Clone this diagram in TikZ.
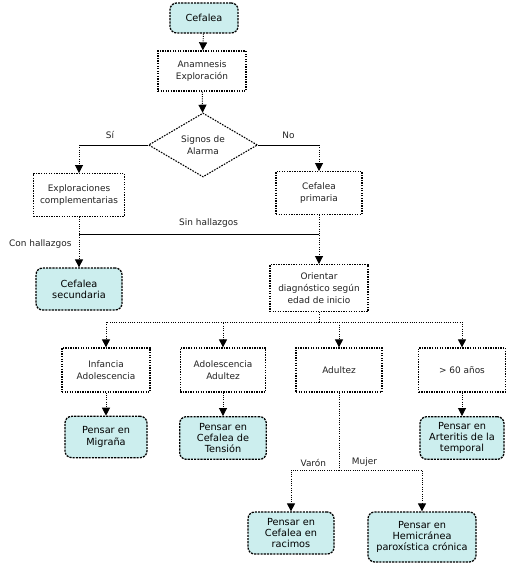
\documentclass[tikz,border=0pt]{standalone}
\usepackage{fontspec}
\setmainfont{DejaVu Sans}
\usetikzlibrary{arrows.meta, positioning, calc, shapes.geometric}
\definecolor{paleaqua}{HTML}{CCEEEE}
\definecolor{inkgray}{HTML}{222222}
\tikzset{
  endbox/.style={rectangle, rounded corners=5pt, draw, fill=paleaqua, line width=0.95pt,
                 dash pattern=on 1.6pt off 0.8pt, align=center, inner sep=1pt,
                 font=\fontsize{7.3}{8.4}\selectfont},
  procbox/.style={rectangle, draw, fill=white, line width=0.95pt,
                  dash pattern=on 1pt off 0.9pt, align=center, inner sep=1pt,
                  text=inkgray, font=\fontsize{6.7}{9}\selectfont},
  decbox/.style={diamond, draw, fill=white, line width=0.8pt,
                 dash pattern=on 1.2pt off 0.9pt, align=center, inner sep=0pt,
                 text=inkgray, font=\fontsize{6.7}{9}\selectfont},
  link/.style={-{Triangle[length=6pt, width=6pt]}, line width=0.7pt, densely dotted},
  plain/.style={line width=0.7pt},
  lbl/.style={font=\fontsize{6.7}{8}\selectfont, text=inkgray},
}
\begin{document}
\begin{tikzpicture}[x=0.75pt, y=-0.75pt]
  \useasboundingbox (0,0) rectangle (507,566);

  % main column
  \node[endbox, minimum width=51pt, minimum height=22.5pt] (cefalea) at (204,18) {Cefalea};
  \node[procbox, minimum width=66pt, minimum height=30pt] (anam) at (202,71) {Anamnesis\\Exploración};
  \node[decbox, minimum width=81.75pt, minimum height=48pt] (alarma) at (203,145) {Signos de\\Alarma};
  \node[procbox, minimum width=68pt, minimum height=32pt] (explor) at (79,195) {Exploraciones\\complementarias};
  \node[procbox, minimum width=64.5pt, minimum height=32pt] (primaria) at (319,193) {Cefalea\\primaria};
  \node[endbox, minimum width=64.5pt, minimum height=31.5pt] (secund) at (79,289) {Cefalea\\secundaria};
  \node[procbox, minimum width=73.5pt, minimum height=35pt] (orientar) at (319,288) {Orientar\\diagnóstico según\\edad de inicio};

  % age groups
  \node[procbox, minimum width=66pt, minimum height=33pt] (infancia) at (106,370) {Infancia\\Adolescencia};
  \node[procbox, minimum width=64pt, minimum height=33pt] (adolesc) at (223,370) {Adolescencia\\Adultez};
  \node[procbox, minimum width=64.5pt, minimum height=33pt] (adultez) at (339,370) {Adultez};
  \node[procbox, minimum width=65pt, minimum height=33pt] (mayores) at (462,370) {> 60 años};

  % conclusions
  \node[endbox, minimum width=61.5pt, minimum height=31pt] (migrana) at (106,437) {Pensar en\\Migraña};
  \node[endbox, minimum width=65pt, minimum height=32pt] (tension) at (223,438) {Pensar en\\Cefalea de\\Tensión};
  \node[endbox, minimum width=63pt, minimum height=32pt] (arteritis) at (462,438) {Pensar en\\Arteritis de la\\temporal};
  \node[endbox, minimum width=64.5pt, minimum height=31.5pt] (racimos) at (291,533) {Pensar en\\Cefalea en\\racimos};
  \node[endbox, minimum width=81pt, minimum height=37.5pt] (hemi) at (422,537) {Pensar en\\Hemicránea\\paroxística crónica};

  \coordinate (hall) at (0,234);
  \coordinate (split) at (0,322);
  \coordinate (sexo) at (0,470);

  \draw[link] (cefalea) -- (anam);
  \draw[link] (anam) -- (alarma);
  \draw[plain] (alarma.west) -- node[lbl, above=1pt, pos=0.55] {Sí} (alarma.west -| explor.north);
  \draw[link] (alarma.west -| explor.north) -- (explor.north);
  \draw[plain] (alarma.east) -- node[lbl, above=1pt] {No} (alarma.east -| primaria.north);
  \draw[link] (alarma.east -| primaria.north) -- (primaria.north);

  \draw[link] (explor.south) -- node[lbl, left=2pt, pos=0.53] {Con hallazgos} (secund.north);
  \draw[plain] (explor.south |- hall) -- node[lbl, above=1pt, pos=0.54] {Sin hallazgos} (primaria.south |- hall);
  \draw[link] (primaria.south) -- (orientar.north);

  \draw[line width=0.7pt, densely dotted] (orientar.south) -- (orientar.south |- split);
  \foreach \grp in {infancia, adolesc, adultez, mayores}
    \draw[link] (orientar.south |- split) -| (\grp.north);

  \draw[link] (infancia) -- (migrana);
  \draw[link] (adolesc) -- (tension);
  \draw[link] (mayores) -- (arteritis);

  \draw[line width=0.7pt, densely dotted] (adultez.south) -- (adultez.south |- sexo)
    node[lbl, above left=-1pt and 6pt] {Varón}
    node[lbl, above right=-1pt and 6pt] {Mujer};
  \draw[link] (adultez.south |- sexo) -| (racimos.north);
  \draw[link] (adultez.south |- sexo) -| (hemi.north);
\end{tikzpicture}
\end{document}
